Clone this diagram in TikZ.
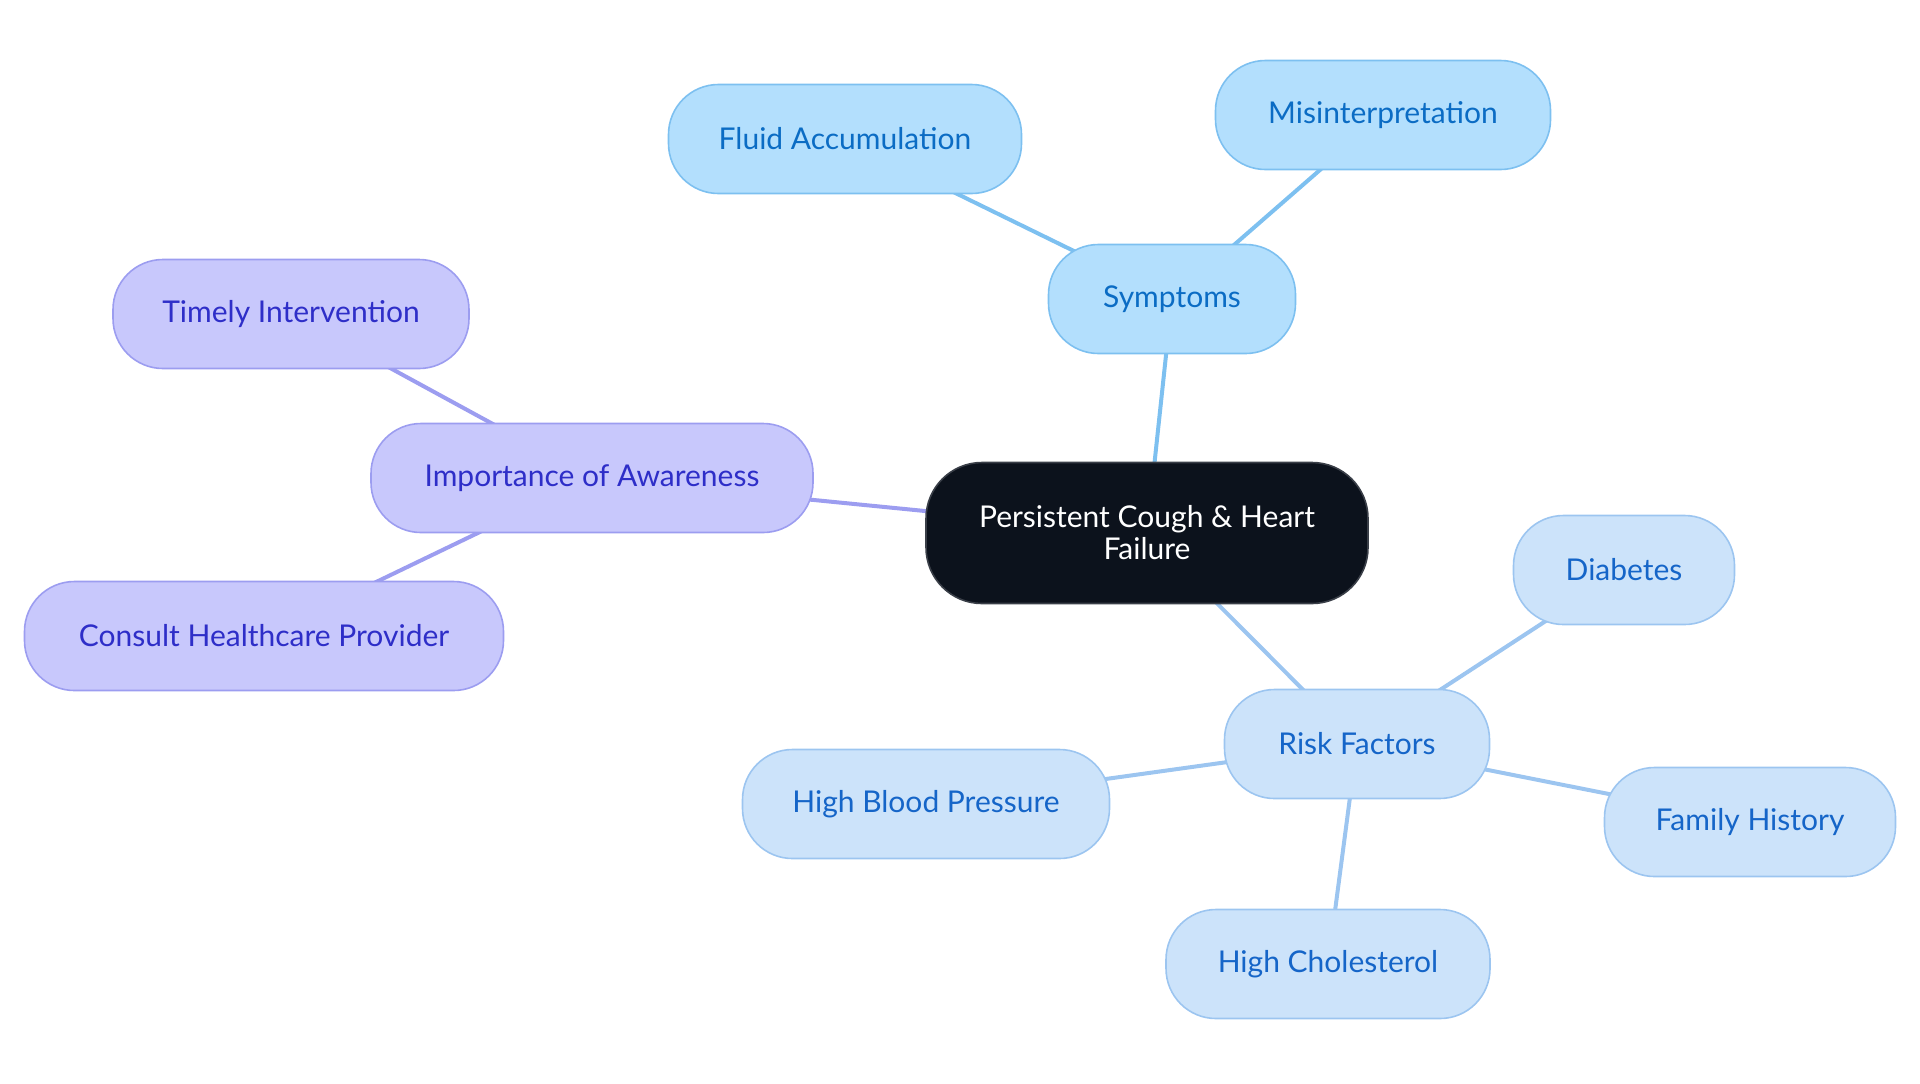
\documentclass[tikz,border=0pt]{standalone}
\usepackage{fontspec}
\setmainfont{Lato}
\usetikzlibrary{backgrounds}
\definecolor{Ink}{HTML}{0C121C}
\definecolor{InkLine}{HTML}{3A3F48}
\definecolor{Sky}{HTML}{B3DFFD}
\definecolor{SkyLine}{HTML}{7DC0F0}
\definecolor{SkyText}{HTML}{0B6CC4}
\definecolor{Pale}{HTML}{CCE3FA}
\definecolor{PaleLine}{HTML}{9CC5F0}
\definecolor{PaleText}{HTML}{1565C8}
\definecolor{Lilac}{HTML}{C8C8FC}
\definecolor{LilacLine}{HTML}{9C9DF0}
\definecolor{LilacText}{HTML}{2E2EC8}
\tikzset{
  pill/.style={draw,line width=0.8pt,rounded corners=25pt,minimum height=54.5pt,align=center,font=\fontsize{15}{18}\selectfont},
  pillsky/.style={pill,draw=SkyLine,fill=Sky,text=SkyText},
  pillpale/.style={pill,draw=PaleLine,fill=Pale,text=PaleText},
  pilllilac/.style={pill,draw=LilacLine,fill=Lilac,text=LilacText},
  root/.style={pill,draw=InkLine,fill=Ink,text=white,rounded corners=28pt,minimum height=70.5pt,minimum width=221pt,font=\fontsize{15}{16}\selectfont},
  link/.style={line width=2pt}
}
\begin{document}
\begin{tikzpicture}[x=0.5pt,y=-0.5pt]
  \useasboundingbox (0,0) rectangle (1920,1083);
  \node[root] (core) at (1147,533) {Persistent Cough \& Heart\\Failure};
  \node[pillsky,minimum width=123.5pt] (symp) at (1172,299) {Symptoms};
  \node[pillsky,minimum width=176.5pt] (fluid) at (845,139) {Fluid Accumulation};
  \node[pillsky,minimum width=167.5pt] (misint) at (1383,115) {Misinterpretation};
  \node[pilllilac,minimum width=221pt] (aware) at (592,478) {Importance of Awareness};
  \node[pilllilac,minimum width=178pt] (timely) at (291,314) {Timely Intervention};
  \node[pilllilac,minimum width=239.5pt] (consult) at (264,636) {Consult Healthcare Provider};
  \node[pillpale,minimum width=132.5pt] (risk) at (1357,744) {Risk Factors};
  \node[pillpale,minimum width=110.5pt] (diab) at (1624,570) {Diabetes};
  \node[pillpale,minimum width=145.5pt] (family) at (1750,822) {Family History};
  \node[pillpale,minimum width=162pt] (chol) at (1328,964) {High Cholesterol};
  \node[pillpale,minimum width=183.5pt] (bp) at (926,804) {High Blood Pressure};
  \begin{scope}[on background layer]
    \draw[link,SkyLine] (core.center)--(symp.center); \draw[link,SkyLine] (symp.center)--(fluid.center); \draw[link,SkyLine] (symp.center)--(misint.center);
    \draw[link,LilacLine] (core.center)--(aware.center); \draw[link,LilacLine] (aware.center)--(timely.center); \draw[link,LilacLine] (aware.center)--(consult.center);
    \draw[link,PaleLine] (core.center)--(risk.center); \draw[link,PaleLine] (risk.center)--(diab.center); \draw[link,PaleLine] (risk.center)--(family.center);
    \draw[link,PaleLine] (risk.center)--(chol.center); \draw[link,PaleLine] (risk.center)--(bp.center);
  \end{scope}
\end{tikzpicture}
\end{document}
